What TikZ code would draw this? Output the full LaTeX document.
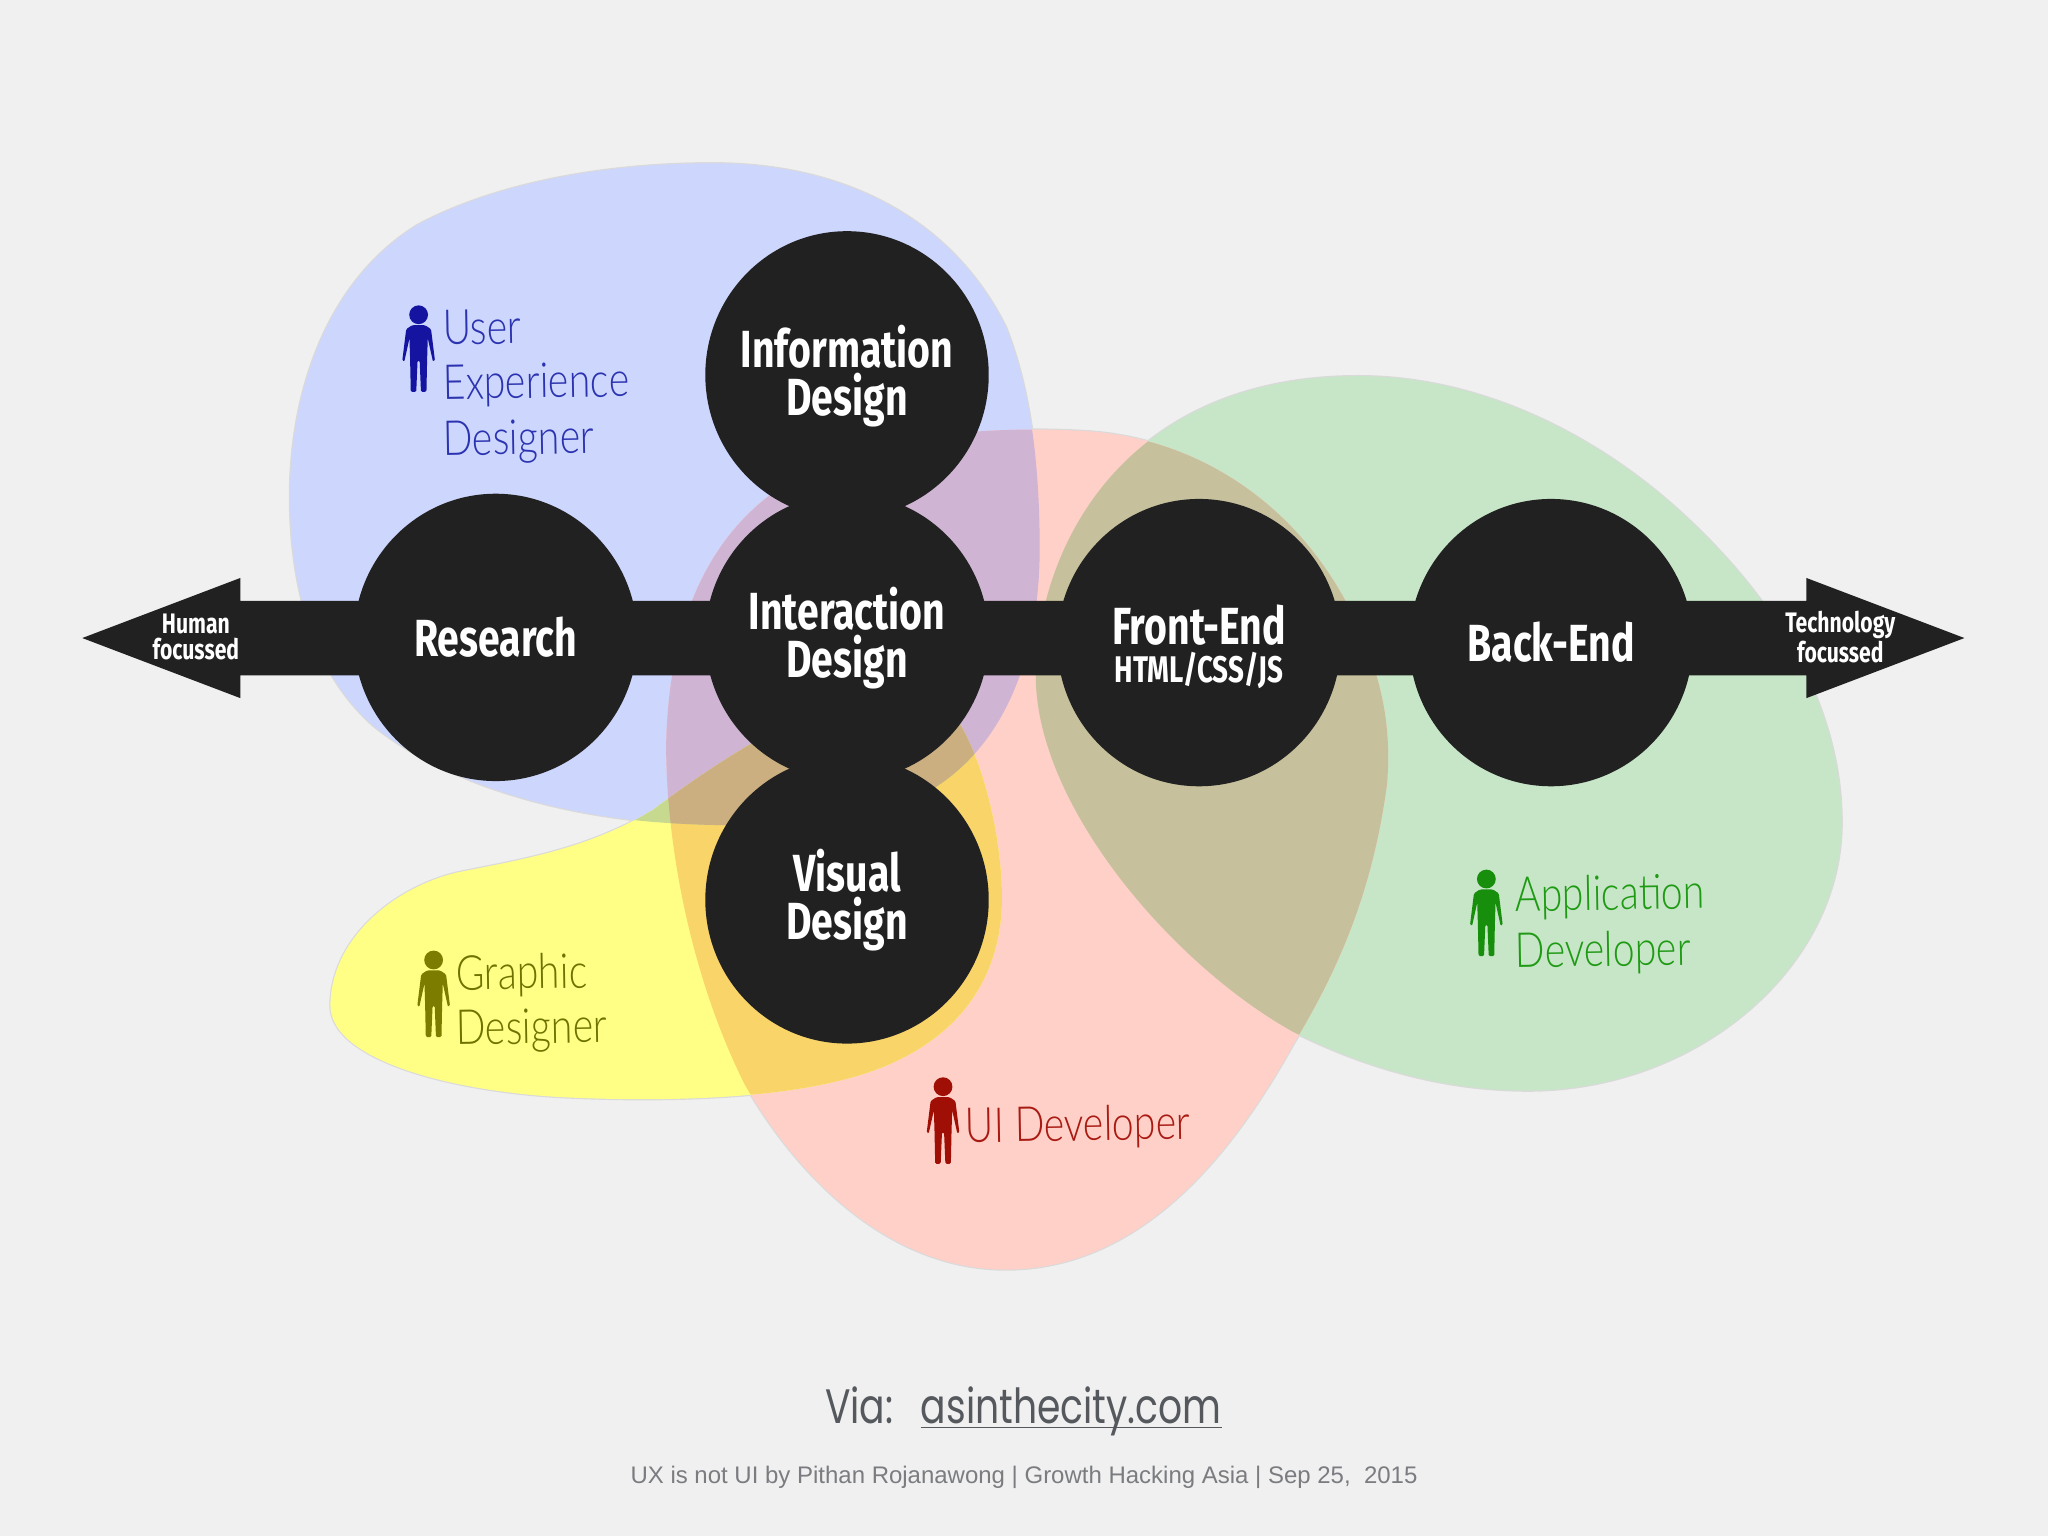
\documentclass[tikz,border=0pt]{standalone}
\usepackage{fontspec}
\usetikzlibrary{shapes.geometric}
\newfontfamily\markerfont[FakeStretch=0.75]{Fira Sans Bold}
\newfontfamily\handfont[FakeStretch=0.81]{Lato Light}
\newfontfamily\viafont[FakeStretch=0.78]{Poppins}
\newfontfamily\smallfont{Liberation Sans}
\definecolor{bgc}{HTML}{F0F0F0}
\definecolor{bluec}{HTML}{CDD6FD}
\definecolor{pinkc}{HTML}{FFD0C8}
\definecolor{greenc}{HTML}{C7E6C7}
\definecolor{yellowc}{HTML}{FFFF85}
\definecolor{purplec}{HTML}{CFB4D3}
\definecolor{olivec}{HTML}{C6C19C}
\definecolor{amberc}{HTML}{F9D468}
\definecolor{limec}{HTML}{C6D98F}
\definecolor{tanc}{HTML}{CBAF80}
\definecolor{inkc}{HTML}{212122}
\definecolor{edgec}{HTML}{DADADA}
\definecolor{pblue}{HTML}{1414A0}
\definecolor{tblue}{HTML}{2B33B0}
\definecolor{polive}{HTML}{7C7C00}
\definecolor{tolive}{HTML}{6E7200}
\definecolor{pred}{HTML}{A00F05}
\definecolor{tred}{HTML}{A81A12}
\definecolor{pgreen}{HTML}{178E0C}
\definecolor{tgreen}{HTML}{1F9A14}
\definecolor{viac}{HTML}{55595E}
\definecolor{footc}{HTML}{7A7C80}
\def\blobblue{(545,125) .. controls (650,125) and (730,170) .. (770,250) .. controls (790,300) and (796,360) .. (796,420) .. controls (796,500) and (770,590) .. (680,620) .. controls (640,632) and (570,634) .. (510,630) .. controls (430,625) and (340,600) .. (285,555) .. controls (235,510) and (222,440) .. (222,380) .. controls (222,300) and (250,215) .. (320,172) .. controls (390,135) and (480,125) .. (545,125) -- cycle}
\def\blobpink{(830,330) .. controls (920,335) and (1000,390) .. (1040,480) .. controls (1060,525) and (1065,560) .. (1062,600) .. controls (1050,690) and (1020,750) .. (990,800) .. controls (940,890) and (870,972) .. (770,972) .. controls (680,972) and (610,900) .. (570,830) .. controls (530,750) and (510,650) .. (510,570) .. controls (512,480) and (540,400) .. (620,360) .. controls (680,332) and (760,326) .. (830,330) -- cycle}
\def\blobgreen{(1040,288) .. controls (1130,288) and (1220,330) .. (1290,395) .. controls (1360,460) and (1410,540) .. (1410,630) .. controls (1410,740) and (1300,835) .. (1170,835) .. controls (1110,835) and (1050,820) .. (990,790) .. controls (900,740) and (795,620) .. (793,520) .. controls (793,420) and (860,288) .. (1040,288) -- cycle}
\def\blobyellow{(253,770) .. controls (253,720) and (300,680) .. (350,668) .. controls (400,658) and (450,650) .. (500,620) .. controls (560,575) and (640,525) .. (700,525) .. controls (740,530) and (765,620) .. (767,680) .. controls (770,760) and (720,810) .. (640,828) .. controls (570,845) and (470,842) .. (430,840) .. controls (340,835) and (253,810) .. (253,770) -- cycle}
\newcommand\firstline{\rule{0pt}{17pt}}
\tikzset{
  disc/.style={ellipse,fill=inkc,text=white,inner sep=-14pt,minimum width=108.5pt,minimum height=110pt,align=center,font=\markerfont\fontsize{20}{18.5}\selectfont},
  tiplabel/.style={text=white,align=center,inner sep=0pt,font=\markerfont\fontsize{10.8}{10}\selectfont},
  hand/.style={anchor=base west,inner sep=0pt,rotate=1,font=\handfont\fontsize{18.5}{20}\selectfont},
  outline/.style={draw=edgec,line width=.9pt}
}
\newcommand\personicon[3]{%
  \begin{scope}[shift={(#1,#2)}]
    \fill[#3] (0,7) circle (3.6pt);
    \fill[#3,rounded corners=.5pt] (-5,15) -- (5,15) -- (9.5,18) -- (12.5,42) -- (11,43) -- (7,25) -- (6.5,42) -- (6,66) -- (1.8,66) -- (.8,42) -- (-.8,42) -- (-1.8,66) -- (-6,66) -- (-6.5,42) -- (-7,25) -- (-11,43) -- (-12.5,42) -- (-9.5,18) -- cycle;
  \end{scope}}
\begin{document}
\begin{tikzpicture}[x=.5pt,y=-.5pt]
\fill[bgc] (0,0) rectangle (1568,1176);
\useasboundingbox (0,0) rectangle (1568,1176);
% outlines under the fills
\draw[outline] \blobblue; \draw[outline] \blobpink; \draw[outline] \blobgreen; \draw[outline] \blobyellow;
% fills
\fill[bluec] \blobblue;
\fill[greenc] \blobgreen;
\fill[pinkc] \blobpink;
\fill[yellowc] \blobyellow;
% overlaps
\begin{scope}\clip \blobblue; \fill[purplec] \blobpink; \end{scope}
\begin{scope}\clip \blobgreen; \fill[olivec] \blobpink; \end{scope}
\begin{scope}\clip \blobyellow; \fill[amberc] \blobpink; \end{scope}
\begin{scope}\clip \blobyellow; \fill[limec] \blobblue; \end{scope}
\begin{scope}\clip \blobyellow; \clip \blobblue; \fill[tanc] \blobpink; \end{scope}
% arrow
\coordinate (lefttip) at (63,488.5);
\coordinate (righttip) at (1504,488.5);
\fill[inkc] (lefttip) -- ++(121,-46) -- ++(0,17.5) -- ([shift={(-121,-28.5)}]righttip) -- ++(0,-17.5) -- (righttip) -- ++(-121,46) -- ++(0,-17.5) -- ([shift={(121,28.5)}]lefttip) -- ++(0,17.5) -- cycle;
% discs
\node[disc] (research) at (379.5,488) {Research};
\node[disc] (info) at (648.5,287) {\firstline Information\\Design};
\node[disc] (visual) at (648.5,689) {\rule{0pt}{16pt}Visual\\Design};
\node[disc] (inter) at (648.5,488) {\firstline Interaction\\Design};
\node[disc] (front) at (918,492) {\rule{0pt}{18.4pt}Front-End\\[-4pt]{\fontsize{14.2}{15}\selectfont HTML/CSS/JS}};
\node[disc] (back) at (1187.5,492) {Back-End};
% tip labels
\node[tiplabel] (human) at (150,488) {Human\\focussed};
\node[tiplabel] (tech) at (1409,488) {Technology\\focussed};
% people
\personicon{320.5}{234}{pblue}
\personicon{332}{728}{polive}
\personicon{722}{825}{pred}
\personicon{1138}{666}{pgreen}
% handwriting
\node[hand,text=tblue] (u1) at (339,264) {User};
\node[hand,text=tblue] (u2) at (339,306) {Experience};
\node[hand,text=tblue] (u3) at (339,349) {Designer};
\node[hand,text=tolive] (g1) at (349,758) {Graphic};
\node[hand,text=tolive] (g2) at (349,800) {Designer};
\node[hand,text=tred] (d1) at (739,875) {UI Developer};
\node[hand,text=tgreen] (a1) at (1160,698) {Application};
\node[hand,text=tgreen] (a2) at (1160,741) {Developer};
% footer
\node[anchor=base,inner sep=0pt,text=viac,font=\viafont\fontsize{18.5}{20}\selectfont] (via) at (783.5,1090) {Via:\hspace{10.5pt}\underline{\smash{asinthecity.com}}};
\node[anchor=base,inner sep=0pt,text=footc,font=\smallfont\fontsize{9.18}{10}\selectfont] (foot) at (784,1136) {UX is not UI by Pithan Rojanawong | Growth Hacking Asia | Sep 25,~ 2015};
\end{tikzpicture}
\end{document}
